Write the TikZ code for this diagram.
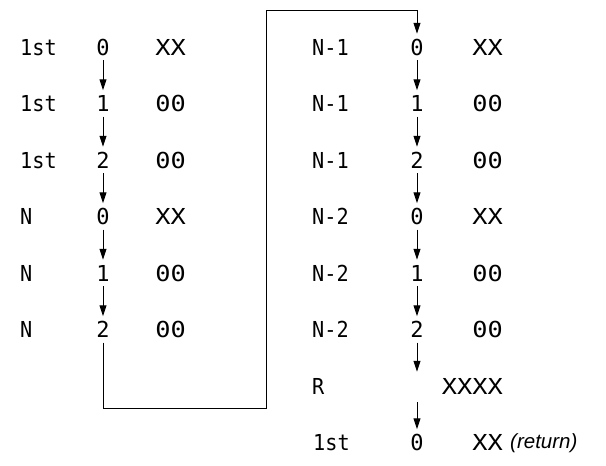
\documentclass[tikz,border=0pt]{standalone}
\usepackage{fontspec}
\setmonofont{DejaVu Sans Mono}
\setsansfont{Liberation Sans}
\newfontfamily\lblfont[FakeStretch=0.92]{DejaVu Sans Mono}
\newfontfamily\valfont[FakeStretch=1.15]{DejaVu Sans Mono}
\usetikzlibrary{arrows.meta}
\begin{document}
\begin{tikzpicture}[x=1pt,y=-1pt,
  txt/.style={font=\ttfamily\fontsize{22}{22}\selectfont, text height=16pt, text depth=0pt, inner xsep=0pt, inner ysep=5pt},
  lbl/.style={txt, font=\lblfont\fontsize{22}{22}\selectfont, anchor=west},
  dig/.style={txt, anchor=center},
  val/.style={txt, font=\valfont\fontsize{22}{22}\selectfont, anchor=east},
  flow/.style={line width=1pt, -{Triangle[length=11pt,width=7pt]}},
  wire/.style={line width=1pt}]
\useasboundingbox (0,0) rectangle (606,466);
% left column
\node[lbl] (L1) at (20,47) {1st};
\node[lbl] (L2) at (20,103.5) {1st};
\node[lbl] (L3) at (20,160) {1st};
\node[lbl] (L4) at (20,216.5) {N};
\node[lbl] (L5) at (20,273) {N};
\node[lbl] (L6) at (20,329.5) {N};
\node[dig] (D1) at (103,47) {0};
\node[dig] (D2) at (103,103.5) {1};
\node[dig] (D3) at (103,160) {2};
\node[dig] (D4) at (103,216.5) {0};
\node[dig] (D5) at (103,273) {1};
\node[dig] (D6) at (103,329.5) {2};
\node[val] (V1) at (186,47) {XX};
\node[val] (V2) at (186,103.5) {00};
\node[val] (V3) at (186,160) {00};
\node[val] (V4) at (186,216.5) {XX};
\node[val] (V5) at (186,273) {00};
\node[val] (V6) at (186,329.5) {00};
% right column
\node[lbl] (M1) at (312,47) {N-1};
\node[lbl] (M2) at (312,103.5) {N-1};
\node[lbl] (M3) at (312,160) {N-1};
\node[lbl] (M4) at (312,216.5) {N-2};
\node[lbl] (M5) at (312,273) {N-2};
\node[lbl] (M6) at (312,329.5) {N-2};
\node[lbl] (M7) at (312,386) {R};
\node[lbl] (M8) at (313,442.5) {1st};
\node[dig] (E1) at (417,47) {0};
\node[dig] (E2) at (417,103.5) {1};
\node[dig] (E3) at (417,160) {2};
\node[dig] (E4) at (417,216.5) {0};
\node[dig] (E5) at (417,273) {1};
\node[dig] (E6) at (417,329.5) {2};
\node[dig, minimum height=30pt] (E7) at (417,387) {};
\node[dig] (E8) at (417,442.5) {0};
\node[val] (W1) at (503,47) {XX};
\node[val] (W2) at (503,103.5) {00};
\node[val] (W3) at (503,160) {00};
\node[val] (W4) at (503,216.5) {XX};
\node[val] (W5) at (503,273) {00};
\node[val] (W6) at (503,329.5) {00};
\node[val] (W7) at (503,386) {XXXX};
\node[val] (W8) at (503,442.5) {XX};
\node[anchor=base west, inner sep=0pt, font=\sffamily\itshape\fontsize{20.5}{20.5}\selectfont] (ret) at (510,448) {(return)};
% arrows
\draw[flow] (D1) -- (D2);
\draw[flow] (D2) -- (D3);
\draw[flow] (D3) -- (D4);
\draw[flow] (D4) -- (D5);
\draw[flow] (D5) -- (D6);
\draw[flow] (E1) -- (E2);
\draw[flow] (E2) -- (E3);
\draw[flow] (E3) -- (E4);
\draw[flow] (E4) -- (E5);
\draw[flow] (E5) -- (E6);
\draw[flow] (E6) -- (E7);
\draw[flow] (E7) -- (E8);
% loop connector
\coordinate (c1) at (103,408);
\coordinate (c2) at (266,408);
\coordinate (c3) at (266,10);
\coordinate (c4) at (417,10);
\draw[flow] (D6.south) -- (c1) -- (c2) -- (c3) -- (c4) -- (E1.north);
\end{tikzpicture}
\end{document}
